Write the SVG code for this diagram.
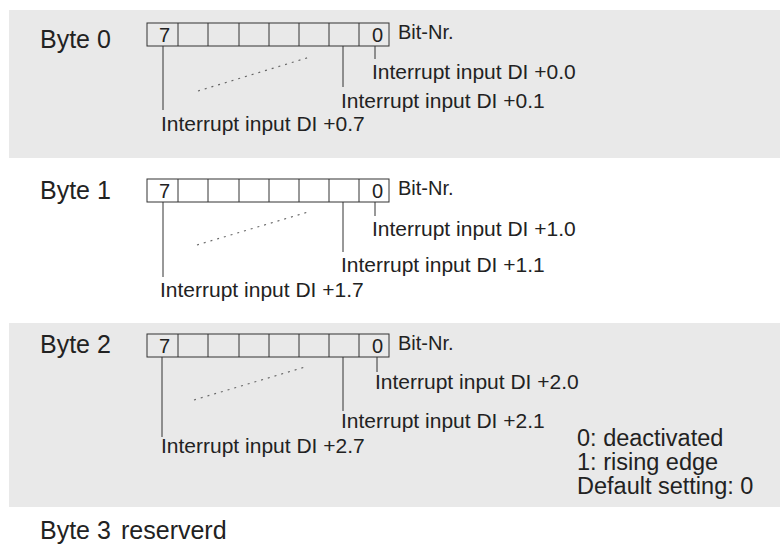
<svg xmlns="http://www.w3.org/2000/svg" width="780" height="550" viewBox="0 0 780 550">
<style>
text{font-family:"Liberation Sans",Arial,sans-serif;fill:#222}
.lbl{font-size:25px}
.t{font-size:21px}
.n{font-size:20px}
.note{font-size:23.5px}
.band{fill:#e9e9e9}
.box{fill:none;stroke:#333;stroke-width:1}
.ln{stroke:#333;stroke-width:1;fill:none}
.dot{stroke:#666;stroke-width:1.2;stroke-dasharray:2 5;fill:none}
</style>
<defs>
<g id="reg">
<rect class="box" x="147" y="0" width="242" height="23"/>
<path class="ln" d="M178 0V23M208 0V23M239 0V23M269 0V23M299 0V23M329 0V23M359 0V23"/>
<text class="n" x="170" y="19" text-anchor="end">7</text>
<text class="n" x="383" y="19" text-anchor="end">0</text>
<text class="n" x="398" y="16">Bit-Nr.</text>
</g>
</defs>
<rect class="band" x="9" y="10" width="771" height="148"/>
<rect class="band" x="9" y="323" width="771" height="184"/>
<g id="byte0">
<text class="lbl" x="40" y="48">Byte 0</text>
<use href="#reg" y="23"/>
<text class="t" x="372" y="79">Interrupt input DI +0.0</text>
<text class="t" x="341" y="108">Interrupt input DI +0.1</text>
<text class="t" x="161" y="131">Interrupt input DI +0.7</text>
</g>
<g id="byte1">
<text class="lbl" x="40" y="199">Byte 1</text>
<use href="#reg" y="179"/>
<text class="t" x="372" y="236">Interrupt input DI +1.0</text>
<text class="t" x="341" y="272">Interrupt input DI +1.1</text>
<text class="t" x="160" y="297">Interrupt input DI +1.7</text>
</g>
<g id="byte2">
<text class="lbl" x="40" y="353">Byte 2</text>
<use href="#reg" y="334"/>
<text class="t" x="375" y="389">Interrupt input DI +2.0</text>
<text class="t" x="341" y="428">Interrupt input DI +2.1</text>
<text class="t" x="161" y="453">Interrupt input DI +2.7</text>
<text class="note" x="577" y="446">0: deactivated</text>
<text class="note" x="577" y="470">1: rising edge</text>
<text class="note" x="577" y="494">Default setting: 0</text>
</g>
<g id="byte3">
<text class="lbl" x="40" y="539">Byte 3</text>
<text class="lbl" x="121" y="539">reserverd</text>
</g>
<g id="connectors">
<path class="ln" d="M375 46V59M343 46V87M163 46V110"/>
<path class="dot" d="M198 91L310 57"/>
<path class="ln" d="M375 202V216M343 202V252M163 202V277"/>
<path class="dot" d="M197 245L308 212"/>
<path class="ln" d="M377 357V372M343 357V411M162 357V437"/>
<path class="dot" d="M194 400L305 367"/>
</g>
</svg>
